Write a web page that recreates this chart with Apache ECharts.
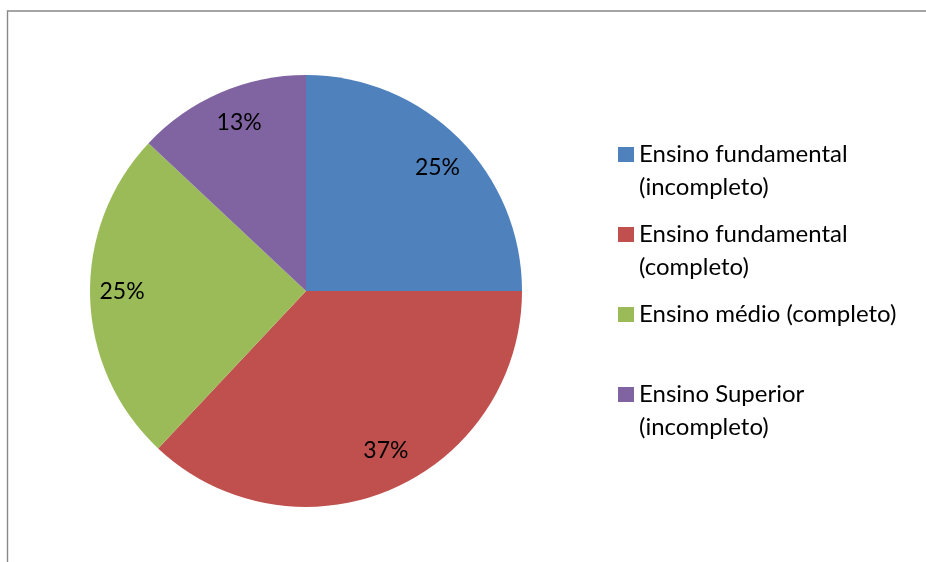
<!DOCTYPE html>
<html>
<head>
<meta charset="utf-8">
<script src="https://cdn.jsdelivr.net/npm/echarts@6/dist/echarts.min.js"></script>
<style>html,body{margin:0;padding:0;background:#fff}#c{width:926px;height:562px}</style>
</head>
<body>
<div id="c"></div>
<script>
const categories = [
  'Ensino fundamental\n(incompleto)',
  'Ensino fundamental\n(completo)',
  'Ensino médio (completo)',
  'Ensino Superior\n(incompleto)'
];
const values = [25, 37, 25, 13];
const colors = ['#4F81BD', '#C0504D', '#9BBB59', '#8064A2'];
const labelOffsets = [[7, 1], [10, -2], [-8, -5], [3, -7]];

const FONT = 'Lato';
const data = categories.map((n, i) => ({ name: n, value: values[i], itemStyle: { color: colors[i] } }));

const chart = echarts.init(document.getElementById('c'));
chart.setOption({
  animation: false,
  backgroundColor: '#fff',
  graphic: [{
    type: 'rect', silent: true,
    shape: { x: 7.5, y: 11, width: 2000, height: 2000 },
    style: { fill: 'none', stroke: '#888', lineWidth: 1.4 }
  }],
  legend: {
    orient: 'vertical',
    left: 613, top: 133,
    itemWidth: 16, itemHeight: 66, itemGap: 14,
    icon: 'path://M0,9h16v15h-16Z M0,0h0.01v0.01h-0.01Z M0,66h0.01v0.01h-0.01Z',
    formatter: n => n.indexOf('\n') >= 0 ? n : n + '\n ',
    textStyle: { fontFamily: FONT, fontSize: 24, lineHeight: 33, color: '#000' },
    data: categories
  },
  series: [{
    type: 'pie',
    center: [306, 291], radius: [0, 216],
    startAngle: 90, clockwise: true,
    label: { show: false }, labelLine: { show: false },
    silent: true,
    data: data
  }, {
    type: 'pie',
    center: [306, 291], radius: [130, 216],
    startAngle: 90, clockwise: true,
    silent: true,
    itemStyle: { color: 'rgba(0,0,0,0)' },
    label: { show: true, position: 'inside', formatter: '{c}%', fontFamily: FONT, fontSize: 23, color: '#000' },
    labelLine: { show: false },
    data: categories.map((n, i) => ({
      name: n, value: values[i],
      itemStyle: { color: 'rgba(0,0,0,0)' },
      label: { offset: labelOffsets[i] }
    }))
  }]
});
</script>
</body>
</html>
